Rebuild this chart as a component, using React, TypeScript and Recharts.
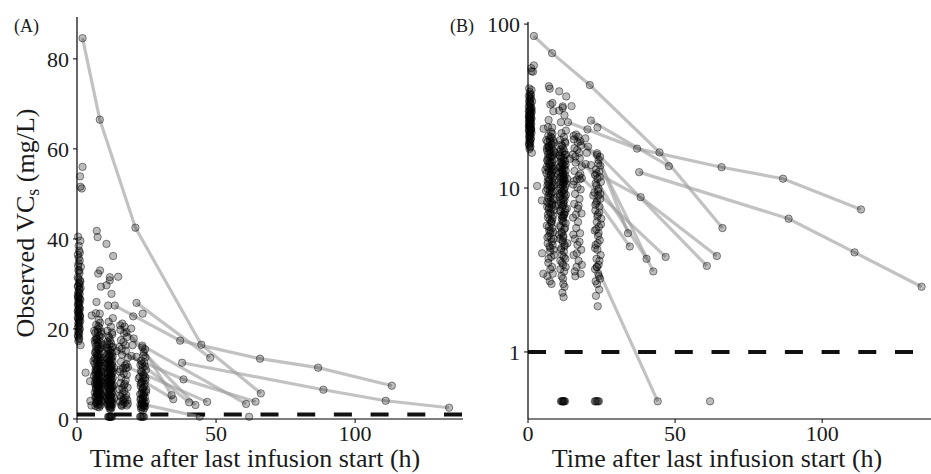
import { ScatterChart, Scatter, XAxis, YAxis, ReferenceLine } from "recharts";

// observations grouped by sampling time (t in h, c in mg/L)
const col0: [number, number][] = [
  [0.4, 40.5], [1.2, 39.6], [0.8, 37.4], [0.3, 36.5], [1.0, 35.2], [0.6, 34.6], [1.4, 33.8], [0.5, 33.0],
  [0.9, 32.4], [0.3, 31.5], [1.1, 30.8], [0.7, 30.2], [0.4, 29.6], [1.3, 29.1], [0.8, 28.7], [0.5, 28.2],
  [1.0, 27.8], [0.3, 27.4], [0.7, 27.0], [1.2, 26.5], [0.5, 26.1], [0.9, 25.7], [0.3, 25.3], [0.7, 24.9],
  [1.1, 24.5], [0.4, 24.1], [0.8, 23.7], [0.5, 23.3], [1.0, 22.9], [0.3, 22.5], [0.7, 22.1], [1.2, 21.7],
  [0.5, 21.2], [0.8, 20.8], [0.4, 20.3], [0.9, 19.8], [0.6, 19.2], [0.3, 18.6], [0.8, 18.0], [0.5, 17.3],
  [1.3, 16.4], [2.0, 56.0], [1.1, 53.9], [1.7, 51.2], [1.2, 51.6], [0.6, 35.8], [0.9, 29.9], [0.4, 26.8],
  [0.6, 24.4], [1.0, 23.0], [0.5, 20.6],
];

const col0b: [number, number][] = [
  [0.6, 38.5], [1.0, 36.9], [0.4, 34.0], [0.8, 32.9], [0.5, 31.1], [1.2, 30.5], [0.3, 29.4], [0.9, 28.9],
  [0.6, 28.0], [0.4, 27.2], [1.0, 26.7], [0.7, 25.9], [0.5, 25.5], [0.9, 24.7], [0.3, 23.9], [0.6, 23.5],
  [1.1, 22.7], [0.4, 22.3], [0.8, 21.9], [0.6, 21.4], [1.0, 20.1], [0.5, 19.5], [0.8, 18.9], [0.4, 18.3],
  [0.7, 17.7],
];

const col8: [number, number][] = [
  [7.1, 41.8], [7.4, 40.4], [7.6, 32.3], [8.3, 33.0], [7.0, 26.0], [8.6, 29.4], [8.2, 23.4], [6.8, 23.5],
  [7.8, 22.0], [6.9, 20.9], [8.1, 20.2], [7.4, 19.9], [8.7, 19.4], [6.6, 19.1], [7.9, 18.5], [8.4, 18.3],
  [7.2, 17.7], [6.4, 17.5], [8.9, 16.8], [7.7, 16.6], [6.8, 16.1], [8.2, 15.7], [7.4, 15.6], [8.8, 15.0],
  [6.5, 14.8], [7.9, 14.2], [7.1, 14.1], [8.5, 13.6], [6.9, 13.2], [7.6, 13.0], [8.3, 12.6], [6.3, 12.3],
  [7.8, 11.9], [8.9, 11.8], [7.2, 11.3], [6.7, 11.0], [8.4, 10.8], [7.5, 10.3], [8.0, 10.1], [6.6, 9.9],
  [8.7, 9.5], [7.3, 9.3], [7.9, 9.2], [6.9, 8.7], [8.5, 8.6], [7.6, 8.3], [8.1, 8.1], [6.5, 7.7],
  [7.2, 7.6], [8.8, 7.3], [7.8, 7.0], [6.8, 6.9], [8.3, 6.5], [7.4, 6.4], [8.0, 6.1], [6.4, 5.9],
  [7.7, 5.5], [8.6, 5.4], [7.1, 5.1], [7.9, 4.9], [6.7, 4.6], [8.4, 4.5], [7.5, 4.1], [8.9, 3.9],
  [7.0, 3.7], [8.2, 3.3], [7.6, 3.2], [6.6, 2.9], [8.0, 2.6], [7.3, 17.2], [8.5, 12.9], [7.0, 10.6],
  [8.2, 7.9], [7.5, 19.3], [6.9, 15.3], [8.0, 13.4],
];

const col8b: [number, number][] = [
  [6.2, 19.6], [8.8, 18.9], [7.0, 18.0], [8.0, 17.4], [6.5, 16.9], [7.3, 16.3], [8.6, 15.9], [7.8, 15.4],
  [6.7, 14.6], [8.3, 14.4], [7.5, 13.8], [6.4, 13.5], [8.9, 13.1], [7.1, 12.7], [8.1, 12.4], [7.7, 12.0],
  [6.8, 11.6], [8.4, 11.5], [7.3, 11.1], [8.8, 10.5], [7.9, 10.0], [6.6, 10.4], [7.4, 9.7], [8.2, 9.4],
  [6.9, 9.0], [7.6, 8.8], [8.7, 8.4], [7.2, 8.0], [6.5, 8.2], [8.0, 7.5], [7.5, 7.1], [8.5, 6.8],
  [6.8, 6.6], [7.8, 6.2], [7.1, 5.8], [8.3, 5.7], [7.6, 5.3], [6.6, 5.0], [8.1, 4.7], [7.3, 4.4],
  [8.7, 4.2], [7.9, 3.8], [6.9, 3.5], [8.4, 3.0], [7.4, 2.7], [9.2, 16.4], [9.1, 11.2], [9.3, 7.8],
  [5.9, 12.9], [6.1, 9.6], [7.7, 20.6], [8.3, 21.4], [6.9, 17.8], [7.4, 14.4], [8.6, 10.3], [7.0, 7.4],
  [8.1, 6.3], [7.2, 5.5], [8.8, 4.9], [7.6, 4.3],
];

const col12: [number, number][] = [
  [10.6, 38.9], [13.0, 36.2], [11.8, 30.8], [10.6, 29.7], [12.4, 27.8], [11.2, 25.2], [11.8, 31.5], [12.9, 22.4],
  [11.4, 21.6], [12.2, 20.5], [10.9, 19.6], [12.7, 18.8], [11.6, 18.1], [11.0, 17.2], [12.3, 16.8], [11.7, 16.5],
  [12.9, 16.0], [10.7, 15.8], [12.0, 15.3], [11.4, 15.1], [12.6, 14.6], [11.1, 14.4], [11.9, 13.9], [12.4, 13.7],
  [10.8, 13.4], [11.6, 13.0], [12.8, 12.8], [11.2, 12.5], [12.1, 12.1], [11.7, 11.9], [10.9, 11.6], [12.5, 11.2],
  [11.3, 11.0], [12.0, 10.7], [11.8, 10.4], [12.7, 10.2], [11.0, 9.9], [12.2, 9.7], [11.5, 9.4], [12.9, 9.1],
  [10.8, 8.9], [11.9, 8.6], [12.4, 8.4], [11.2, 8.1], [12.1, 7.9], [11.6, 7.6], [10.9, 7.3], [12.6, 7.1],
  [11.4, 6.8], [12.0, 6.6], [11.7, 6.3], [12.8, 6.1], [11.1, 5.8], [12.3, 5.6], [11.5, 5.4], [12.0, 5.1],
  [10.8, 4.9], [11.8, 4.7], [12.5, 4.5], [11.3, 4.3], [12.2, 4.1], [11.6, 3.9], [12.7, 3.7], [11.0, 3.6],
  [11.9, 3.4], [12.3, 3.1], [11.4, 2.9], [12.0, 2.6], [11.7, 2.3], [12.1, 2.16], [11.5, 14.0], [12.4, 10.9],
  [11.1, 9.0], [12.2, 6.9], [11.8, 12.3],
];

const col12b: [number, number][] = [
  [11.9, 17.5], [10.7, 16.6], [12.5, 15.9], [11.3, 15.5], [12.1, 14.8], [11.5, 14.3], [12.8, 13.9], [11.0, 13.5],
  [12.3, 13.1], [11.7, 12.7], [10.9, 12.3], [12.6, 12.0], [11.4, 11.7], [12.0, 11.3], [11.8, 10.9], [12.9, 10.6],
  [11.2, 10.1], [12.2, 9.8], [11.6, 9.5], [10.8, 9.2], [12.5, 8.8], [11.3, 8.5], [12.0, 8.2], [11.8, 7.8],
  [12.7, 7.4], [11.1, 7.2], [12.3, 6.9], [11.5, 6.5], [12.1, 6.2], [10.9, 5.9], [12.6, 5.7], [11.4, 5.3],
  [12.0, 5.0], [11.7, 4.8], [12.4, 4.4], [11.2, 4.2], [12.2, 3.8], [11.6, 3.5], [12.8, 3.3], [11.0, 3.2],
  [11.9, 2.8], [12.4, 2.5], [11.3, 18.4], [12.6, 19.2], [13.3, 11.4], [13.2, 7.5], [10.4, 8.0], [10.5, 5.2],
  [13.4, 4.6], [11.5, 12.9], [12.2, 11.6], [11.9, 6.7], [12.3, 9.3], [11.1, 10.5],
];

const col18: [number, number][] = [
  [16.3, 21.2], [17.1, 20.5], [15.6, 19.8], [18.0, 18.2], [16.7, 17.1], [15.2, 16.0], [17.6, 15.2], [16.2, 14.3],
  [18.3, 13.6], [15.8, 12.7], [17.3, 11.9], [16.6, 11.3], [15.4, 10.5], [17.9, 9.8], [16.0, 9.2], [17.5, 8.6],
  [15.7, 8.0], [16.9, 7.5], [18.2, 7.0], [15.3, 6.6], [17.0, 6.2], [16.4, 5.7], [17.7, 5.3], [15.9, 4.9],
  [16.8, 4.5], [18.1, 4.2], [15.5, 3.9], [17.2, 3.6], [16.5, 3.3], [17.9, 3.0], [16.1, 2.9],
  [16.9, 19.0], [15.8, 17.5], [17.4, 16.4], [16.1, 15.6], [17.8, 12.2], [15.6, 11.0], [16.8, 10.1], [17.2, 7.8],
  [16.3, 6.9], [15.4, 5.2], [17.5, 4.7], [16.6, 4.0], [18.3, 3.4], [15.9, 3.1],
];

const col24: [number, number][] = [
  [24.5, 15.5], [23.1, 13.0], [24.2, 12.6], [22.8, 12.0], [23.6, 11.4], [24.8, 10.9], [23.3, 10.4], [24.0, 9.9],
  [22.6, 9.4], [23.9, 9.0], [24.6, 8.6], [23.2, 8.1], [24.3, 7.7], [22.9, 7.3], [23.7, 6.9], [24.9, 6.5],
  [23.4, 6.2], [24.1, 5.8], [22.7, 5.5], [23.8, 5.1], [24.4, 4.8], [23.0, 4.5], [23.6, 4.2], [24.7, 3.9],
  [23.3, 3.7], [24.0, 3.4], [22.8, 3.2], [23.9, 3.0], [24.5, 2.8], [23.5, 2.6], [24.2, 2.4], [23.1, 2.2],
  [23.7, 1.9], [23.3, 12.3], [24.4, 11.7], [23.0, 10.7], [23.8, 9.6], [24.6, 9.2], [23.5, 8.3], [22.9, 7.9],
  [24.2, 7.1], [23.6, 6.7], [24.8, 6.0], [23.2, 5.6], [24.0, 5.3], [23.7, 4.6], [22.8, 4.3], [24.3, 3.6],
  [23.4, 3.3], [24.1, 2.9], [23.0, 2.7], [24.6, 13.7], [23.9, 14.1],
];

const scattered: [number, number][] = [
  [3.1, 10.3], [4.7, 8.4], [5.3, 23.0], [4.8, 4.0], [5.2, 3.0], [14.8, 31.6], [20.2, 22.8], [20.0, 16.4],
  [21.4, 13.8], [17.6, 11.3], [23.6, 23.4], [20.4, 17.9], [19.5, 20.1],
];

// below LOQ, plotted at 0.5
const blq: [number, number][] = [
  [11.2, 0.5], [11.5, 0.5], [11.7, 0.5], [12.0, 0.5], [12.1, 0.5], [12.3, 0.5], [12.6, 0.5],
  [22.7, 0.5], [23.0, 0.5], [23.4, 0.5], [23.8, 0.5], [24.1, 0.5], [61.9, 0.5],
];

// individuals with several samples, connected by lines
const profiles: [number, number][][] = [
  [[2.0, 84.6], [8.2, 66.5], [21.0, 42.5], [44.7, 16.5], [66.1, 5.7]],
  [[13.6, 25.2], [37.1, 17.4], [65.8, 13.4], [86.7, 11.4], [113.2, 7.4]],
  [[21.4, 25.8], [47.9, 13.6]],
  [[37.8, 12.5], [88.6, 6.5], [111.0, 4.05], [133.8, 2.5]],
  [[15.5, 20.8], [23.5, 15.9], [34.0, 5.3]],
  [[17.8, 19.3], [24.0, 14.8], [42.6, 3.1]],
  [[14.3, 15.1], [38.3, 8.8], [64.2, 3.85]],
  [[19.6, 14.0], [40.3, 3.7]],
  [[18.3, 11.5], [46.8, 3.8]],
  [[23.5, 16.3], [60.8, 3.35]],
  [[22.2, 9.0], [34.6, 4.4]],
  [[23.4, 3.3], [44.1, 0.5]],
];

const xTicks = [0, 50, 100];
const linTicks = [0, 20, 40, 60, 80];
const logTicks = [1, 10, 100];
const loq = 1;

const toRows = (pts: [number, number][]) => pts.map(([t, c]) => ({ t, c }));

const allPoints = toRows([
  ...col0, ...col0b, ...col8, ...col8b, ...col12, ...col12b, ...col18, ...col24,
  ...scattered, ...blq, ...profiles.flat(),
]);

const font = "'Liberation Serif', 'Times New Roman', serif";
const tickStyle = { fill: "#1a1a1a", fontSize: 22, fontFamily: font };

const Dot = (props: any) => (
  <circle cx={props.cx} cy={props.cy} r={3.7} fill="#000" fillOpacity={0.26}
    stroke="#000" strokeOpacity={0.5} strokeWidth={0.9} />
);
const NoDot = () => <g />;

const Panel = ({ log }: { log: boolean }) => (
  <ScatterChart
    width={log ? 461 : 470}
    height={474}
    margin={{ top: log ? 22 : 17, right: log ? 0 : 7, bottom: 0, left: 0 }}
  >
    <XAxis
      type="number"
      dataKey="t"
      domain={[0, log ? 137 : 138.8]}
      ticks={xTicks}
      interval={0}
      height={55}
      tickSize={4}
      tickMargin={2}
      axisLine={{ stroke: "#000", strokeWidth: 1.2 }}
      tickLine={{ stroke: "#000" }}
      tick={tickStyle}
    />
    {log ? (
      <YAxis
        type="number"
        dataKey="c"
        scale="log"
        domain={[0.39, 103]}
        allowDataOverflow
        ticks={logTicks}
        interval={0}
        width={58}
        tickSize={4}
        tickMargin={4}
        axisLine={{ stroke: "#000", strokeWidth: 1.2 }}
        tickLine={{ stroke: "#000" }}
        tick={tickStyle}
      />
    ) : (
      <YAxis
        type="number"
        dataKey="c"
        domain={[0, 89.3]}
        ticks={linTicks}
        interval={0}
        width={77}
        tickSize={4}
        tickMargin={4}
        axisLine={{ stroke: "#000", strokeWidth: 1.2 }}
        tickLine={{ stroke: "#000" }}
        tick={tickStyle}
      />
    )}
    {profiles.map((p, i) => (
      <Scatter
        key={i}
        data={toRows(p)}
        line={{ stroke: "#9a9a9a", strokeWidth: 3.2, strokeOpacity: 0.6 }}
        shape={NoDot}
        isAnimationActive={false}
      />
    ))}
    <Scatter data={allPoints} shape={Dot} isAnimationActive={false} />
    <ReferenceLine y={loq} stroke="#111" strokeWidth={4} strokeDasharray="18 18.7" />
  </ScatterChart>
);

export default function App() {
  return (
    <div style={{ position: "absolute", left: 0, top: 0, width: 931, height: 474, background: "#fff" }}>
      <div style={{ position: "absolute", left: 0, top: 0 }}>
        <Panel log={false} />
      </div>
      <div style={{ position: "absolute", left: 470, top: 0 }}>
        <Panel log={true} />
      </div>
      <svg width={931} height={474} style={{ position: "absolute", left: 0, top: 0, pointerEvents: "none" }}>
        <g fontFamily={font} fill="#1a1a1a">
          <text x={14} y={32} fontSize={18}>(A)</text>
          <text x={450} y={32} fontSize={18}>(B)</text>
          <text x={255} y={467} fontSize={26} textAnchor="middle">Time after last infusion start (h)</text>
          <text x={717} y={467} fontSize={26} textAnchor="middle">Time after last infusion start (h)</text>
          <text transform="translate(34,223) rotate(-90)" fontSize={26} textAnchor="middle">
            Observed VC<tspan fontSize={18} dy={5}>s</tspan>
            <tspan dy={-5}> (mg/L)</tspan>
          </text>
        </g>
      </svg>
    </div>
  );
}
